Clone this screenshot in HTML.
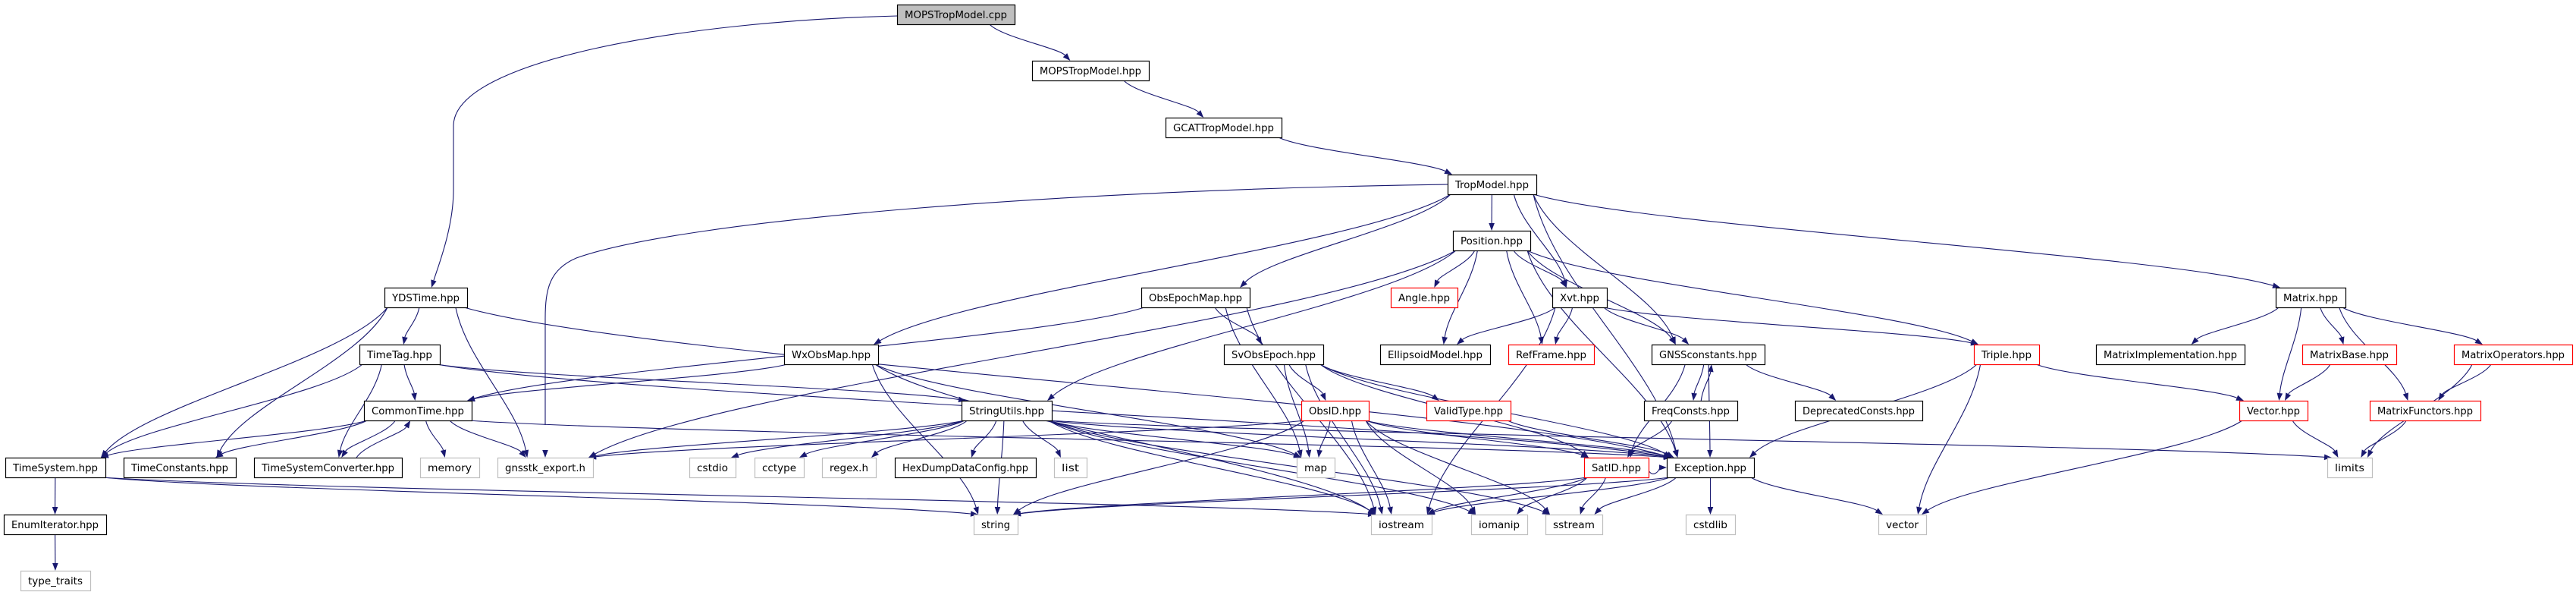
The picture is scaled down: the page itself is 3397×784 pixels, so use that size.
<!DOCTYPE html>
<html><head><meta charset="utf-8"><style>
html,body{margin:0;padding:0;background:#fff;}
svg{display:block;}
text{font-family:"DejaVu Sans","Liberation Sans",sans-serif;font-size:13px;fill:#000;}
</style></head><body>
<svg id="s" width="3397" height="784" viewBox="0 0 3397 784" xmlns="http://www.w3.org/2000/svg">
<g id="edges" fill="none" stroke="#191970" stroke-width="1.1"></g>
<g id="heads" fill="#191970" stroke="none"></g>
<g id="nodes"></g>
</svg>
<div id="labels" style="display:none">
MOPSTropModel.cpp MOPSTropModel.hpp GCATTropModel.hpp TropModel.hpp Position.hpp YDSTime.hpp ObsEpochMap.hpp Angle.hpp Xvt.hpp Matrix.hpp TimeTag.hpp WxObsMap.hpp SvObsEpoch.hpp EllipsoidModel.hpp RefFrame.hpp GNSSconstants.hpp Triple.hpp MatrixImplementation.hpp MatrixBase.hpp MatrixOperators.hpp CommonTime.hpp StringUtils.hpp ObsID.hpp ValidType.hpp FreqConsts.hpp DeprecatedConsts.hpp Vector.hpp MatrixFunctors.hpp TimeSystem.hpp TimeConstants.hpp TimeSystemConverter.hpp memory gnsstk_export.h cstdio cctype regex.h HexDumpDataConfig.hpp list map SatID.hpp Exception.hpp limits EnumIterator.hpp string iostream iomanip sstream cstdlib vector type_traits
</div>
<script>
var N={
cpp:["MOPSTropModel.cpp",1183,1338,0,"c"],
mopsh:["MOPSTropModel.hpp",1361,1515,1,"b"],
gcat:["GCATTropModel.hpp",1537,1690,2,"b"],
trop:["TropModel.hpp",1909,2026,3,"b"],
pos:["Position.hpp",1916,2018,4,"b"],
yds:["YDSTime.hpp",507,616,5,"b"],
oem:["ObsEpochMap.hpp",1505,1648,5,"b"],
angle:["Angle.hpp",1834,1922,5,"r"],
xvt:["Xvt.hpp",2047,2119,5,"b"],
matrix:["Matrix.hpp",3001,3093,5,"b"],
timetag:["TimeTag.hpp",474,580,6,"b"],
wx:["WxObsMap.hpp",1034,1158,6,"b"],
svo:["SvObsEpoch.hpp",1614,1745,6,"b"],
ell:["EllipsoidModel.hpp",1820,1965,6,"b"],
ref:["RefFrame.hpp",1989,2102,6,"r"],
gnss:["GNSSconstants.hpp",2178,2327,6,"b"],
triple:["Triple.hpp",2603,2689,6,"r"],
mimpl:["MatrixImplementation.hpp",2764,2960,6,"b"],
mbase:["MatrixBase.hpp",3036,3160,6,"r"],
mops:["MatrixOperators.hpp",3236,3392,6,"r"],
ct:["CommonTime.hpp",480,622,7,"b"],
su:["StringUtils.hpp",1268,1387,7,"b"],
obsid:["ObsID.hpp",1716,1805,7,"r"],
valid:["ValidType.hpp",1881,1992,7,"r"],
freq:["FreqConsts.hpp",2168,2291,7,"b"],
dep:["DeprecatedConsts.hpp",2367,2535,7,"b"],
vec:["Vector.hpp",2953,3043,7,"r"],
mfun:["MatrixFunctors.hpp",3125,3271,7,"r"],
ts:["TimeSystem.hpp",7,139,8,"b"],
tc:["TimeConstants.hpp",163,311,8,"b"],
tsc:["TimeSystemConverter.hpp",335,530,8,"b"],
memory:["memory",554,632,8,"g"],
gexp:["gnsstk_export.h",656,782,8,"g"],
cstdio:["cstdio",909,970,8,"g"],
cctype:["cctype",995,1060,8,"g"],
regex:["regex.h",1084,1155,8,"g"],
hex:["HexDumpDataConfig.hpp",1180,1366,8,"b"],
list:["list",1390,1433,8,"g"],
map:["map",1710,1760,8,"g"],
satid:["SatID.hpp",2089,2174,8,"r"],
exc:["Exception.hpp",2198,2313,8,"b"],
limits:["limits",3069,3128,8,"g"],
enumit:["EnumIterator.hpp",5,140,9,"b"],
string:["string",1284,1342,9,"g"],
iostream:["iostream",1808,1888,9,"g"],
iomanip:["iomanip",1940,2014,9,"g"],
sstream:["sstream",2038,2113,9,"g"],
cstdlib:["cstdlib",2223,2288,9,"g"],
vector:["vector",2477,2540,9,"g"],
tt:["type_traits",27,119,10,"g"]
};
var NS="http://www.w3.org/2000/svg";
function el(t,a,p){var e=document.createElementNS(NS,t);for(var k in a)e.setAttribute(k,a[k]);p.appendChild(e);return e;}
var nodes=document.getElementById("nodes"),edges=document.getElementById("edges"),heads=document.getElementById("heads");
var B={};
for(var k in N){var n=N[k];var y=Math.round(5.7+74.67*n[3]);var x=n[1],w=n[2]-n[1],h=26;
B[k]={x:x,y:y,w:w,h:h,cx:x+w/2,cy:y+h/2,row:n[3]};
var st=n[4]=="r"?"#ff0000":(n[4]=="g"?"#bfbfbf":"#000000");
el("rect",{x:x+0.5,y:y+0.5,width:w,height:h,fill:n[4]=="c"?"#bfbfbf":"#fff",stroke:st,"stroke-width":1.2},nodes);
var t=el("text",{x:x+w/2,y:y+18,"text-anchor":"middle",textLength:Math.max(10,w-20),lengthAdjust:"spacingAndGlyphs"},nodes);
t.textContent=n[0];}
document.getElementById("labels").remove();
function head(ex,ey,c2x,c2y){var dx=ex-c2x,dy=ey-c2y,l=Math.sqrt(dx*dx+dy*dy)||1;dx/=l;dy/=l;
var L=10,W=3.8,bx=ex-dx*L,by=ey-dy*L;
el("polygon",{points:ex+","+ey+" "+(bx-dy*W)+","+(by+dx*W)+" "+(bx+dy*W)+","+(by-dx*W)},heads);return [bx,by];}
function clamp(v,a,b){return Math.max(a,Math.min(b,v));}
function E(a,b){var s=B[a],t=B[b],sx,sy,ex,ey,c1x,c1y,c2x,c2y;
if(t.row>s.row){sx=s.cx+clamp((t.cx-s.cx)*0.25,-s.w/2+4,s.w/2-4);sy=s.y+s.h;ex=t.cx+clamp((s.cx-t.cx)*0.15,-t.w/2+6,t.w/2-6);ey=t.y;
var dy=ey-sy;c1x=sx+(ex-sx)*0.15;c1y=sy+dy*0.35;c2x=ex-(ex-sx)*0.15;c2y=ey-dy*0.35;}
else if(t.row<s.row){sx=s.cx+clamp((t.cx-s.cx)*0.25,-s.w/2+4,s.w/2-4)+8;sy=s.y;ex=t.cx+clamp((s.cx-t.cx)*0.15,-t.w/2+6,t.w/2-6)+8;ey=t.y+t.h;
var dy=ey-sy;c1x=sx+(ex-sx)*0.15;c1y=sy+dy*0.35;c2x=ex-(ex-sx)*0.15;c2y=ey-dy*0.35;}
else{var r=t.cx>s.cx;sx=r?s.x+s.w:s.x;sy=s.cy+4;ex=r?t.x:t.x+t.w;ey=t.cy;c1x=sx+(ex-sx)*0.3;c1y=sy+12;c2x=ex-(ex-sx)*0.3;c2y=ey;}
var bb=head(ex,ey,c2x,c2y);
el("path",{d:"M"+sx+","+sy+" C"+c1x+","+c1y+" "+c2x+","+c2y+" "+bb[0]+","+bb[1]},edges);}
function P(d,ex,ey,c2x,c2y){var bb=head(ex,ey,c2x,c2y);el("path",{d:d+" "+bb[0]+","+bb[1]},edges);}
P("M1183,21 C900,28 600,80 598,165 L598,250 C598,300 578,350",569,379,578,350);
P("M1909,243 C1400,250 900,290 760,340 C725,355 719,380 719,420 L719,560 C719,575",719,603,719,575);
var L=[
["cpp","mopsh"],["mopsh","gcat"],["gcat","trop"],
["trop","pos"],["trop","xvt"],["trop","gnss"],["trop","matrix"],["trop","exc"],["trop","oem"],["trop","wx"],
["pos","angle"],["pos","ell"],["pos","ref"],["pos","xvt"],["pos","triple"],["pos","exc"],["pos","su"],["pos","gexp"],["pos","gnss"],
["xvt","ell"],["xvt","ref"],["xvt","gnss"],["xvt","triple"],["xvt","iostream"],
["oem","svo"],["oem","map"],["oem","iostream"],["oem","ct"],
["wx","ct"],["wx","map"],["wx","iostream"],["wx","string"],
["svo","obsid"],["svo","valid"],["svo","satid"],["svo","map"],["svo","iostream"],["svo","exc"],
["yds","timetag"],["yds","ts"],["yds","tc"],["yds","gexp"],["yds","exc"],
["timetag","ct"],["timetag","ts"],["timetag","tsc"],["timetag","su"],["timetag","exc"],
["ct","ts"],["ct","tc"],["ct","tsc"],["ct","memory"],["ct","gexp"],["ct","exc"],["tsc","ct"],
["ts","enumit"],["ts","string"],["ts","iostream"],["enumit","tt"],
["su","cstdio"],["su","cctype"],["su","regex"],["su","hex"],["su","list"],["su","string"],["su","iostream"],["su","iomanip"],["su","sstream"],["su","limits"],["su","exc"],["su","map"],["su","gexp"],
["obsid","map"],["obsid","iostream"],["obsid","iomanip"],["obsid","sstream"],["obsid","string"],["obsid","satid"],["obsid","exc"],["obsid","gexp"],
["valid","exc"],
["gnss","satid"],["gnss","freq"],["gnss","exc"],["gnss","dep"],["freq","gnss"],["freq","satid"],
["satid","iostream"],["satid","iomanip"],["satid","sstream"],["satid","string"],["satid","exc"],
["exc","iostream"],["exc","string"],["exc","vector"],["exc","cstdlib"],["exc","sstream"],
["triple","vec"],["triple","exc"],["triple","vector"],
["matrix","mimpl"],["matrix","vec"],["matrix","mbase"],["matrix","mfun"],["matrix","mops"],
["mbase","vec"],["mops","mfun"],["mops","limits"],["mfun","limits"],["vec","limits"],["vec","vector"]
];
for(var i=0;i<L.length;i++)E(L[i][0],L[i][1]);
</script>
</body></html>
